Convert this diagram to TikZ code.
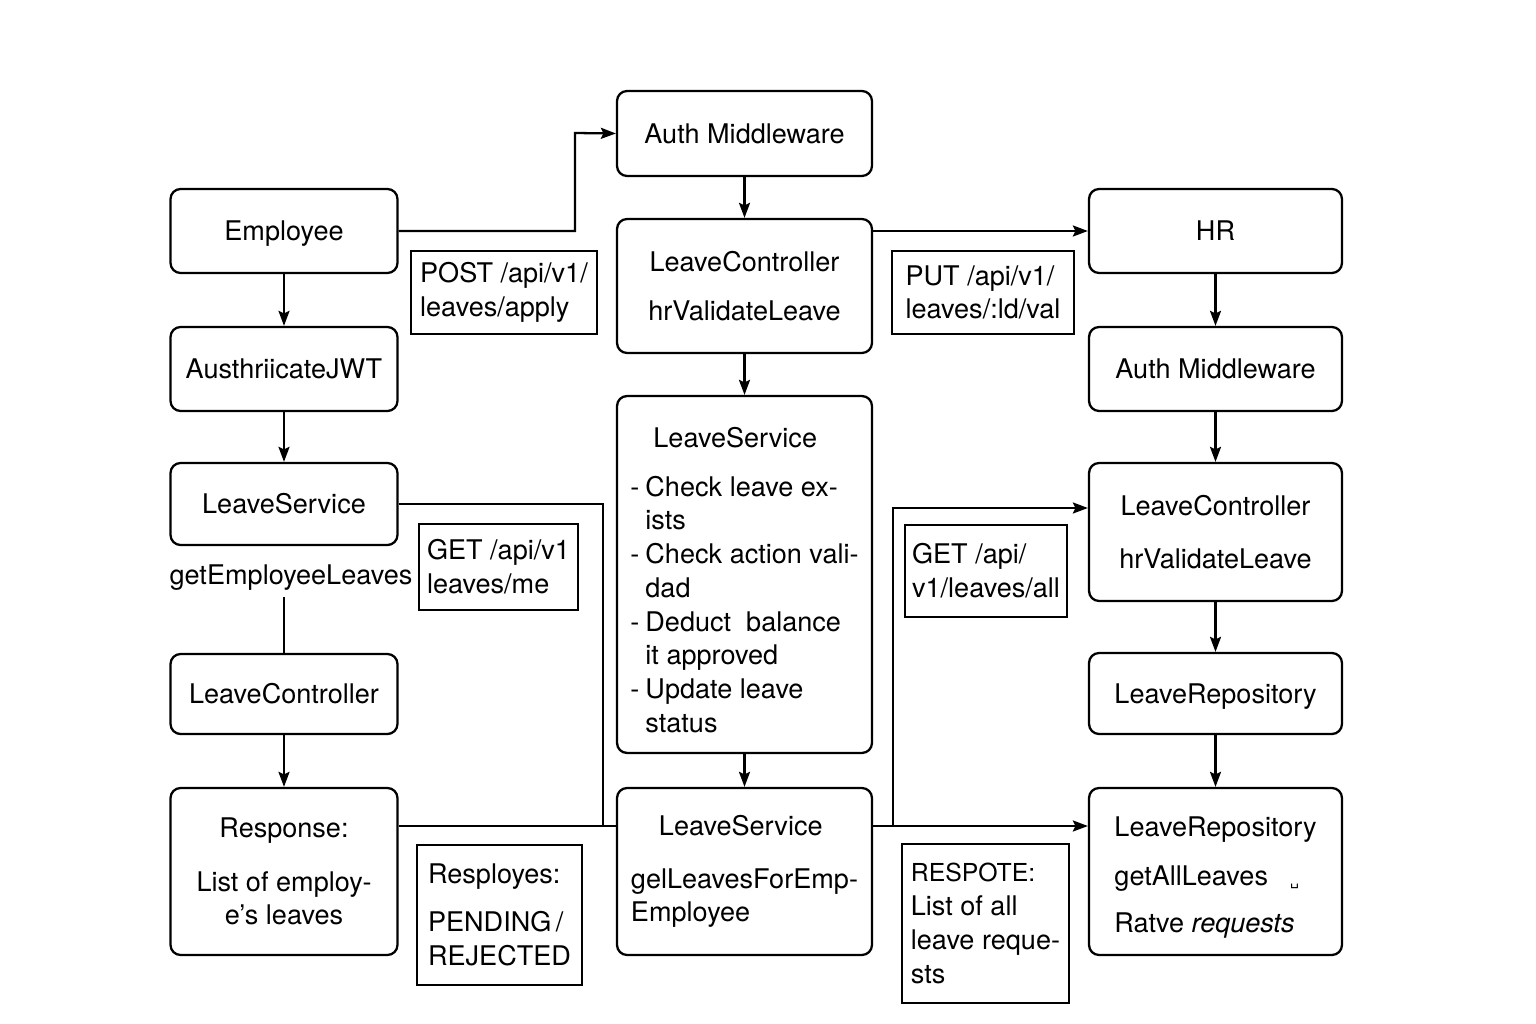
\documentclass[tikz,border=0pt]{standalone}
\usepackage{fontspec}
\setmainfont{TeX Gyre Heros}
\newfontfamily\symfont{DejaVu Sans}
\usetikzlibrary{positioning,arrows.meta}

\begin{document}
\begin{tikzpicture}[
    x=0.02cm, y=-0.02cm,
    font=\fontsize{15.4}{19.2}\selectfont,
    box/.style={draw, rounded corners=0.2cm, line width=1.3pt, align=center, inner sep=0pt},
    lbox/.style={box, minimum width=4.54cm},
    mbox/.style={box, minimum width=5.1cm},
    rbox/.style={box, minimum width=5.06cm},
    tag/.style={draw, line width=1.3pt, align=left, inner sep=0pt},
    flow/.style={-{Stealth[length=0.3cm, width=0.22cm, inset=0.05cm]}, line width=1.3pt},
    wire/.style={line width=1.3pt}
]
    \useasboundingbox (0,0) rectangle (1536,1024);

    % employee side
    \node[lbox, minimum height=1.68cm] (emp) at (284,231) {\rule{0pt}{0.5cm}Employee};
    \node[lbox, minimum height=1.68cm] (jwt) at (284,369) {AusthriicateJWT};
    \node[lbox, minimum height=1.64cm] (svcA) at (284,504) {LeaveService};
    \node (empLv) at (291,578) {getEmployeeLeaves};
    \node[lbox, minimum height=1.6cm] (ctlA) at (284,694) {LeaveController};
    \node[lbox, minimum height=3.34cm] (resA) at (284,871.5) {Response:\\[0.4cm]List of employ-\\e’s leaves};

    % middle
    \node[mbox, minimum height=1.7cm] (authA) at (744.5,133.5) {Auth Middleware};
    \node[mbox, minimum height=2.68cm] (ctlB) at (744.5,286) {LeaveController\\[0.32cm]hrValidateLeave};
    \node[mbox, minimum height=7.14cm, align=left] (svcB) at (744.5,574.5) {\rule{0pt}{0.62cm}\hspace*{0.46cm}LeaveService\\[0.3cm]
        \makebox[0.3cm][l]{-}Check~leave~ex-\\\hspace*{0.3cm}ists\\
        \makebox[0.3cm][l]{-}Check~action~vali-\\\hspace*{0.3cm}dad\\
        \makebox[0.3cm][l]{-}Deduct~~balance\\\hspace*{0.3cm}it~approved\\
        \makebox[0.3cm][l]{-}Update~leave\\\hspace*{0.3cm}status};
    \node[mbox, minimum height=3.34cm, align=left] (svcC) at (744.5,871.5) {\hspace*{0.56cm}LeaveService\\[0.38cm]gelLeavesForEmp-\\Employee};

    % HR side
    \node[rbox, minimum height=1.68cm] (hr) at (1215.5,231) {HR};
    \node[rbox, minimum height=1.68cm] (authB) at (1215.5,369) {Auth Middleware};
    \node[rbox, minimum height=2.76cm] (ctlC) at (1215.5,532) {LeaveController\\[0.38cm]hrValidateLeave};
    \node[rbox, minimum height=1.62cm] (repoA) at (1215.5,693.5) {\rule{0pt}{0.5cm}LeaveRepository};
    \node[rbox, minimum height=3.34cm, align=left] (repoB) at (1215.5,871.5) {\rule{0pt}{0.64cm}LeaveRepository\\[0.3cm]getAllLeaves\hspace{0.44cm}{\symfont\footnotesize ␣}\\[0.28cm]Ratve \textit{requests}};

    % route tags
    \node[tag, minimum width=3.72cm, minimum height=1.66cm] (post) at (504,292.5) {POST~/api/v1/\\leaves/apply};
    \node[tag, minimum width=3.18cm, minimum height=1.72cm] (getA) at (498.5,567) {GET~/api/v1\\leaves/me};
    \node[tag, minimum width=3.3cm, minimum height=2.8cm] (stat) at (499.5,915) {Resployes:\\[0.28cm]PENDING\,/\\REJECTED};
    \node[tag, minimum width=3.64cm, minimum height=1.66cm] (put) at (983,292.5) {PUT~/api/v1/\\leaves/:ld/val};
    \node[tag, minimum width=3.24cm, minimum height=1.84cm] (getB) at (986,571) {GET~/api/\\v1/leaves/all};
    \node[tag, minimum width=3.34cm, minimum height=3.18cm] (respB) at (985.5,923.5) {{\fontsize{14.1}{19.2}\selectfont RESPOTE:}\\List~of~all\\leave~reque-\\sts};

    \coordinate (bendA) at (575,133);
    \coordinate (joinA) at (603,826);
    \coordinate (joinB) at (893,826);
    \coordinate (bendB) at (893,508);

    \draw[flow] (emp.east) -| (bendA) -- (authA.west);
    \draw[flow] (emp) -- (jwt);
    \draw[flow] (jwt) -- (svcA);
    \draw[wire] (empLv.south -| ctlA.north) -- (ctlA.north);
    \draw[flow] (ctlA) -- (resA);
    \draw[wire] (svcA.east) -| (joinA);
    \draw[wire] (joinA -| resA.east) -- (joinA -| svcC.west);

    \draw[flow] (authA) -- (ctlB);
    \draw[flow] (ctlB) -- (svcB);
    \draw[flow] (svcB) -- (svcC);
    \draw[flow] (ctlB.east |- hr.west) -- (hr.west);

    \draw[flow] (hr) -- (authB);
    \draw[flow] (authB) -- (ctlC);
    \draw[flow] (ctlC) -- (repoA);
    \draw[flow] (repoA) -- (repoB);
    \draw[flow] (joinB -| svcC.east) -- (joinB -| repoB.west);
    \draw[flow] (joinB) -- (bendB) -- (bendB -| ctlC.west);
\end{tikzpicture}
\end{document}
